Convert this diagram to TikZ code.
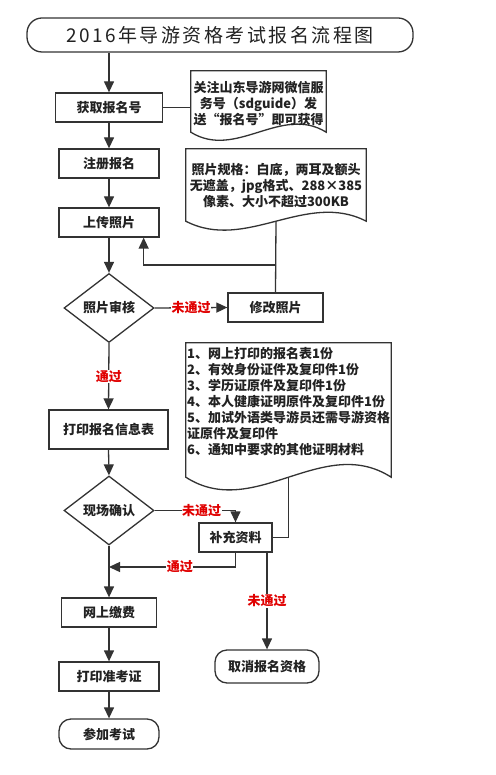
\documentclass[tikz,border=0pt]{standalone}
\usepackage{fontspec}
\setmainfont{Noto Sans CJK SC}
\newfontfamily\titlefont{Noto Sans CJK SC}[LetterSpace=13]
\usetikzlibrary{arrows.meta,calc,shapes.geometric}
\definecolor{ln}{HTML}{333333}
\definecolor{tx}{HTML}{222222}
\definecolor{rd}{HTML}{E00000}
\begin{document}
\begin{tikzpicture}[x=1pt,y=-1pt,
  line/.style={draw=ln, line width=1.3pt},
  arr/.style={line, -{Triangle[length=11pt,width=10pt]}},
  box/.style={draw=ln, line width=1.3pt, rectangle, minimum height=29pt, inner sep=0pt,
    font=\bfseries\fontsize{13}{15}\selectfont, text=tx},
  rbox/.style={box, rounded corners=12pt},
  dia/.style={box, diamond, minimum width=90pt, minimum height=69pt},
  docbox/.style={inner sep=0pt, draw=none},
  note/.style={font=\bfseries\fontsize{13}{16}\selectfont, text=tx, inner sep=0pt, align=center},
  lab/.style={font=\bfseries\fontsize{13}{15}\selectfont, text=rd, fill=white, inner sep=0.5pt}]
\useasboundingbox[fill=white] (0,0) rectangle (495,775);

% title
\node[rbox, rounded corners=15pt, minimum width=386pt, minimum height=34pt,
  font=\titlefont\fontsize{19}{21}\selectfont] (title) at (220,35) {2016年导游资格考试报名流程图};

% main column
\node[box, minimum width=107pt] (hq) at (109,107.5) {获取报名号};
\node[box, minimum width=100pt] (zc) at (109,163.5) {注册报名};
\node[box, minimum width=100pt] (up) at (109,222.5) {上传照片};
\node[dia] (d1) at (109,308) {照片审核};
\node[box, minimum width=95pt] (xg) at (275.5,307.5) {修改照片};
\node[box, minimum width=119pt, minimum height=39pt] (dy) at (108.5,429.5) {打印报名信息表};
\node[dia] (d2) at (109,510.5) {现场确认};
\node[box, minimum width=73pt] (bc) at (235.5,537.5) {补充资料};
\node[rbox, minimum width=104pt, minimum height=33pt] (qx) at (267,666.5) {取消报名资格};
\node[box, minimum width=95pt] (jf) at (109,612.5) {网上缴费};
\node[box, minimum width=100pt] (zk) at (109,676.5) {打印准考证};
\node[rbox, minimum width=100pt, minimum height=30pt] (ck) at (109,734) {参加考试};

% document shapes
\node[docbox, minimum width=135pt, minimum height=61pt] (doc1) at (258.5,101.5) {};
\node[docbox, minimum width=180pt, minimum height=72pt] (doc2) at (276,185) {};
\node[docbox, minimum width=205pt, minimum height=134pt] (doc3) at (288.5,410) {};
\foreach \d/\c in {doc1/28,doc2/31,doc3/44}{
  \draw[line] (\d.south west) -- (\d.north west) -- (\d.north east) -- (\d.south east)
    .. controls ($(\d.south west)!2/3!(\d.south east)+(0,-\c)$) and ($(\d.south west)!1/3!(\d.south east)+(0,\c)$) .. (\d.south west) -- cycle;
}
\node[note] (doc1t) at (258.5,104) {关注山东导游网微信服\\务号（sdguide）发\\送“报名号”即可获得};
\node[note] (doc2t) at (276,186) {照片规格：白底，两耳及额头\\无遮盖，jpg格式、288×385\\像素、大小不超过300KB};
\node[note, align=left, anchor=north west] (doc3t) at (187,347) {1、网上打印的报名表1份\\2、有效身份证件及复印件1份\\3、学历证原件及复印件1份\\4、本人健康证明原件及复印件1份\\5、加试外语类导游员还需导游资格\\证原件及复印件\\6、通知中要求的其他证明材料};

% connectors
\draw[arr] (hq.north |- title.south) -- (hq.north);
\draw[arr] (hq.south) -- (zc.north);
\draw[arr] (zc.south) -- (up.north);
\draw[arr] (up.south) -- (d1.north);
\draw[line] (hq.east) -- (hq.east -| doc1.west);

\coordinate (j1) at (276,265);
\draw[line] (doc2.south) -- (xg.north);
\draw[arr] (j1) -| ([xshift=-16pt]up.south east);

\draw[arr] (d1.east) -- node[lab]{未通过} (xg.west);
\draw[arr] (d1.south) -- node[lab]{通过} (dy.north);
\draw[arr] (dy.south) -- (d2.north);

\draw[line] (doc3.south) |- (bc.east);
\draw[arr] (d2.east) -| node[lab, pos=0.29]{未通过} (bc.north);
\coordinate (m1) at (109,567);
\draw[arr] (bc.south) |- node[lab, pos=0.72]{通过} (m1);
\draw[arr] (qx.north |- bc.south) -- node[lab]{未通过} (qx.north);

\draw[arr] (d2.south) -- (jf.north);
\draw[arr] (jf.south) -- (zk.north);
\draw[arr] (zk.south) -- (ck.north);
\end{tikzpicture}
\end{document}
